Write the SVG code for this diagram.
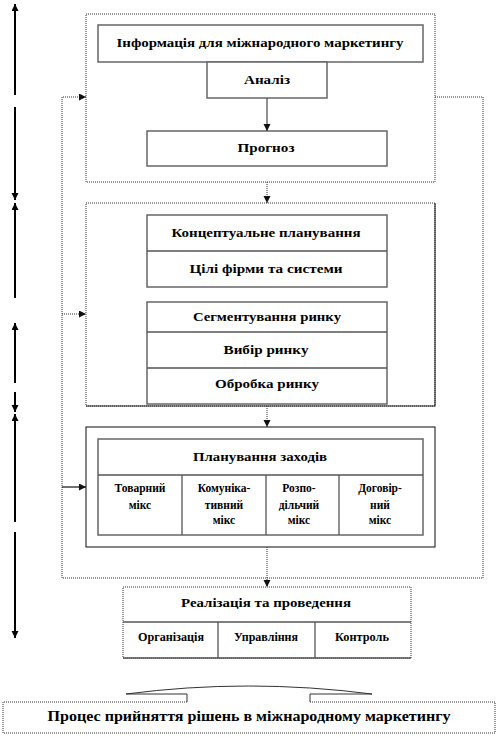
<svg xmlns="http://www.w3.org/2000/svg" width="498" height="737" viewBox="0 0 498 737">
<style>
.dot{fill:none;stroke:#333;stroke-width:1;stroke-dasharray:1 1}
.sol{fill:none;stroke:#222;stroke-width:1.1}
.inner{fill:#fff;stroke:#666;stroke-width:1.5}
.div{stroke:#555;stroke-width:1.3;fill:none}
.blk{fill:none;stroke:#000;stroke-width:2}
text{font-family:"Liberation Serif","Times New Roman",serif;font-weight:bold;fill:#000;text-anchor:middle}
.t13{font-size:13px}
.t11{font-size:11.5px}
.t15{font-size:15px}
</style>
<defs>
<marker id="ah" markerUnits="userSpaceOnUse" markerWidth="8" markerHeight="8" refX="7" refY="3.5" orient="auto"><path d="M0,0 L7,3.5 L0,7 Z" fill="#000"/></marker>
<marker id="ahs" markerUnits="userSpaceOnUse" markerWidth="8" markerHeight="8" refX="7" refY="3.5" orient="auto"><path d="M0,0 L7,3.5 L0,7 Z" fill="#111"/></marker>
</defs>
<rect width="498" height="737" fill="#fff"/>

<g id="box1">
<rect x="86" y="14" width="349" height="168" fill="#fff" class="dot"/>
<g id="info"><rect x="98" y="25" width="325" height="37" class="inner"/><text class="t13" x="260" y="47" textLength="287" lengthAdjust="spacingAndGlyphs">Інформація  для міжнародного  маркетингу</text></g>
<g id="analiz"><rect x="207" y="62" width="120" height="36" class="inner"/><text class="t13" x="267" y="84" textLength="46" lengthAdjust="spacingAndGlyphs">Аналіз</text></g>
<g id="prognoz"><rect x="147" y="131" width="240" height="35" class="inner"/><text class="t13" x="266" y="152" textLength="57" lengthAdjust="spacingAndGlyphs">Прогноз</text></g>
</g>

<g id="box2">
<rect x="86" y="203" width="349" height="203" fill="#fff" class="dot"/>
<path d="M435,203 V406 H86" class="sol"/>
<g id="konc"><rect x="147" y="215" width="240" height="72" class="inner"/><line x1="147" y1="251" x2="387" y2="251" class="div"/>
<text class="t13" x="266" y="237" textLength="189" lengthAdjust="spacingAndGlyphs">Концептуальне планування</text>
<text class="t13" x="266" y="273" textLength="153" lengthAdjust="spacingAndGlyphs">Цілі фірми  та системи</text></g>
<g id="segm"><rect x="147" y="302" width="240" height="102" class="inner"/><line x1="147" y1="332" x2="387" y2="332" class="div"/><line x1="147" y1="368" x2="387" y2="368" class="div"/>
<text class="t13" x="267" y="321" textLength="148" lengthAdjust="spacingAndGlyphs">Сегментування ринку</text>
<text class="t13" x="266" y="354" textLength="85" lengthAdjust="spacingAndGlyphs">Вибір ринку</text>
<text class="t13" x="267" y="388" textLength="104" lengthAdjust="spacingAndGlyphs">Обробка ринку</text></g>
</g>

<g id="box3">
<rect x="86" y="427" width="349" height="120" fill="#fff" class="sol"/>
<g id="plan"><rect x="98" y="439" width="325" height="96" class="inner"/>
<line x1="98" y1="475" x2="423" y2="475" class="div"/>
<line x1="182" y1="475" x2="182" y2="535" class="div"/>
<line x1="266" y1="475" x2="266" y2="535" class="div"/>
<line x1="339" y1="475" x2="339" y2="535" class="div"/>
<text class="t13" x="260" y="461" textLength="134" lengthAdjust="spacingAndGlyphs">Планування заходів</text>
<text class="t11" x="140" y="492">Товарний</text><text class="t11" x="140" y="509">мікс</text>
<text class="t11" x="224" y="492">Комуніка-</text><text class="t11" x="224" y="509">тивний</text><text class="t11" x="224" y="524">мікс</text>
<text class="t11" x="299" y="492">Розпо-</text><text class="t11" x="299" y="509">дільчий</text><text class="t11" x="299" y="524">мікс</text>
<text class="t11" x="380" y="492">Договір-</text><text class="t11" x="380" y="509">ний</text><text class="t11" x="380" y="524">мікс</text>
</g>
</g>

<g id="box4">
<rect x="123" y="587" width="288" height="71" fill="#fff" class="dot"/>
<line x1="123" y1="658" x2="411" y2="658" class="div"/>
<line x1="123" y1="622" x2="411" y2="622" class="div"/>
<line x1="218" y1="622" x2="218" y2="658" class="div"/>
<line x1="315" y1="622" x2="315" y2="658" class="div"/>
<text class="t13" x="266" y="607" textLength="170" lengthAdjust="spacingAndGlyphs">Реалізація  та проведення</text>
<text class="t11" x="171" y="641" textLength="66" lengthAdjust="spacingAndGlyphs">Організація</text>
<text class="t11" x="266" y="641" textLength="64" lengthAdjust="spacingAndGlyphs">Управління</text>
<text class="t11" x="362" y="641" textLength="54" lengthAdjust="spacingAndGlyphs">Контроль</text>
</g>

<g id="title">
<path d="M187,702 H3 V733 H495 V702 H310" class="dot"/>
<path d="M187,702 V694 H126 Q248,678 372,694 H310 V702" fill="none" stroke="#333" stroke-width="1"/>
<text class="t15" x="249" y="721" textLength="403" lengthAdjust="spacingAndGlyphs">Процес  прийняття  рішень  в  міжнародному  маркетингу</text>
</g>

<g id="connectors">
<line x1="267" y1="98" x2="267" y2="131" stroke="#555" stroke-width="1.3" marker-end="url(#ahs)"/>
<line x1="267" y1="182" x2="267" y2="203" class="dot" marker-end="url(#ahs)"/>
<line x1="267" y1="406" x2="267" y2="427" class="dot" marker-end="url(#ahs)"/>
<line x1="267" y1="547" x2="267" y2="587" class="dot" marker-end="url(#ahs)"/>
<path d="M435,97 H483 V578 H62 V97 H86" class="dot" marker-end="url(#ahs)"/>
<line x1="62" y1="314" x2="86" y2="314" class="dot" marker-end="url(#ahs)"/>
<line x1="62" y1="487" x2="86" y2="487" stroke="#111" stroke-width="1.2" marker-end="url(#ahs)"/>
<line x1="15" y1="95" x2="15" y2="4" class="blk" marker-end="url(#ah)"/>
<line x1="15" y1="107" x2="15" y2="200" class="blk" marker-end="url(#ah)"/>
<line x1="15" y1="298" x2="15" y2="203" class="blk" marker-end="url(#ah)"/>
<line x1="15" y1="383" x2="15" y2="323" class="blk" marker-end="url(#ah)"/>
<line x1="15" y1="392" x2="15" y2="412" class="blk" marker-end="url(#ah)"/>
<line x1="15" y1="522" x2="15" y2="414" class="blk" marker-end="url(#ah)"/>
<line x1="15" y1="532" x2="15" y2="638" class="blk" marker-end="url(#ah)"/>
</g>
</svg>
